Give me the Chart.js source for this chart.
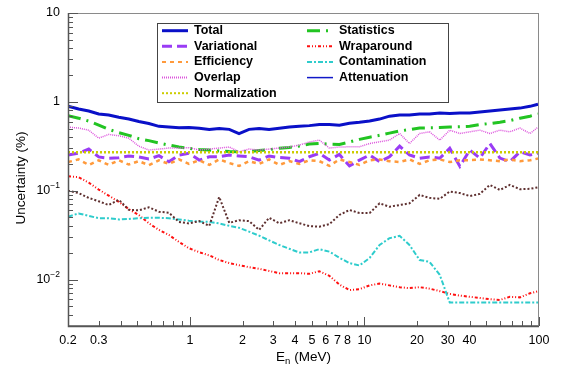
<!DOCTYPE html>
<html>
<head>
<meta charset="utf-8">
<script src="https://cdn.jsdelivr.net/npm/chart.js@4"></script>
<style>
  html, body { margin: 0; padding: 0; background: #fff; }
  #wrap { width: 564px; height: 369px; }
</style>
</head>
<body>
<div id="wrap"><canvas id="chart" width="564" height="369"></canvas></div>
<script>
// Energy bins (MeV)
var energy = [0.2, 0.23, 0.263, 0.3, 0.342, 0.391, 0.446, 0.509, 0.581, 0.664, 0.757, 0.865,
  0.987, 1.13, 1.29, 1.47, 1.68, 1.91, 2.18, 2.49, 2.84, 3.25, 3.71, 4.23,
  4.83, 5.51, 6.29, 7.18, 8.2, 9.36, 10.7, 12.2, 13.9, 15.9, 18.1, 20.7,
  23.6, 27.0, 30.8, 35.2, 40.1, 45.8, 52.3, 59.7, 68.1, 77.8, 88.8, 98.7];

// Uncertainties (%)
var total = [0.895, 0.83, 0.79, 0.73, 0.71, 0.67, 0.64, 0.60, 0.57, 0.53, 0.52, 0.51,
  0.515, 0.505, 0.49, 0.50, 0.49, 0.44, 0.49, 0.50, 0.49, 0.505, 0.52, 0.53,
  0.54, 0.555, 0.555, 0.547, 0.575, 0.59, 0.61, 0.64, 0.69, 0.71, 0.71, 0.73,
  0.73, 0.75, 0.74, 0.75, 0.75, 0.77, 0.79, 0.81, 0.83, 0.85, 0.89, 0.94];
var statistics = [0.70, 0.655, 0.607, 0.548, 0.49, 0.45, 0.42, 0.385, 0.366, 0.344, 0.326, 0.31,
  0.30, 0.29, 0.287, 0.28, 0.276, 0.274, 0.276, 0.283, 0.29, 0.30, 0.307, 0.318,
  0.335, 0.34, 0.335, 0.332, 0.353, 0.378, 0.40, 0.42, 0.445, 0.47, 0.487, 0.507,
  0.51, 0.513, 0.52, 0.524, 0.53, 0.555, 0.57, 0.59, 0.615, 0.655, 0.69, 0.73];
var variational = [0.252, 0.265, 0.294, 0.24, 0.232, 0.235, 0.246, 0.24, 0.227, 0.248, 0.212, 0.252,
  0.263, 0.221, 0.241, 0.241, 0.252, 0.246, 0.241, 0.221, 0.246, 0.236, 0.232, 0.212,
  0.241, 0.263, 0.221, 0.256, 0.19, 0.221, 0.252, 0.212, 0.241, 0.317, 0.252, 0.232,
  0.24, 0.232, 0.30, 0.188, 0.287, 0.232, 0.34, 0.233, 0.212, 0.274, 0.252, 0.263];
var wraparound = [0.145, 0.142, 0.123, 0.103, 0.088, 0.075, 0.062, 0.0533, 0.043, 0.0362, 0.0318, 0.0265,
  0.0225, 0.0203, 0.0187, 0.0166, 0.0153, 0.0145, 0.0138, 0.0132, 0.0125, 0.0118, 0.0118, 0.0118,
  0.0116, 0.0124, 0.011, 0.0088, 0.0076, 0.0078, 0.0086, 0.009, 0.0086, 0.0082, 0.008, 0.0082,
  0.0079, 0.0074, 0.0069, 0.0066, 0.0064, 0.0062, 0.006, 0.0059, 0.0064, 0.0063, 0.0070, 0.0074];
var efficiency = [0.21, 0.225, 0.195, 0.22, 0.195, 0.22, 0.197, 0.215, 0.194, 0.22, 0.2, 0.225,
  0.2, 0.22, 0.195, 0.225, 0.205, 0.19, 0.215, 0.2, 0.225, 0.195, 0.215, 0.2,
  0.22, 0.215, 0.19, 0.225, 0.21, 0.195, 0.22, 0.225, 0.215, 0.21, 0.225, 0.2,
  0.22, 0.225, 0.21, 0.22, 0.22, 0.225, 0.22, 0.215, 0.225, 0.215, 0.22, 0.23];
var contamination = [0.051, 0.0555, 0.052, 0.049, 0.049, 0.0475, 0.048, 0.049, 0.0495, 0.0495, 0.049, 0.0475,
  0.046, 0.045, 0.0445, 0.0428, 0.0402, 0.0382, 0.0346, 0.0312, 0.0276, 0.0245, 0.0222, 0.0202,
  0.0202, 0.022, 0.0206, 0.0176, 0.0153, 0.0144, 0.0175, 0.0245, 0.0292, 0.031, 0.0245, 0.0166,
  0.0158, 0.0113, 0.0055, 0.0055, 0.0055, 0.0055, 0.0055, 0.0055, 0.0055, 0.0055, 0.0055, 0.0055];
var overlap = [0.52, 0.507, 0.48, 0.39, 0.43, 0.415, 0.39, 0.317, 0.287, 0.294, 0.302, 0.302,
  0.305, 0.287, 0.294, 0.302, 0.31, 0.274, 0.294, 0.287, 0.294, 0.302, 0.31, 0.326,
  0.353, 0.371, 0.302, 0.31, 0.312, 0.312, 0.34, 0.355, 0.371, 0.44, 0.34, 0.44,
  0.46, 0.371, 0.48, 0.44, 0.46, 0.48, 0.44, 0.48, 0.46, 0.507, 0.44, 0.52];
var attenuation = [0.10, 0.094, 0.083, 0.076, 0.069, 0.079, 0.061, 0.060, 0.065, 0.058, 0.0565, 0.0445,
  0.0428, 0.0455, 0.0402, 0.085, 0.0434, 0.0465, 0.0455, 0.0362, 0.0496, 0.043, 0.0465, 0.043,
  0.04, 0.0394, 0.042, 0.0533, 0.0607, 0.056, 0.056, 0.072, 0.066, 0.069, 0.072, 0.0895,
  0.083, 0.081, 0.098, 0.094, 0.087, 0.092, 0.116, 0.102, 0.116, 0.104, 0.105, 0.109];
var normalization = [0.27, 0.27, 0.27, 0.27, 0.27, 0.27, 0.27, 0.27, 0.27, 0.27, 0.27, 0.27,
  0.27, 0.27, 0.27, 0.27, 0.27, 0.27, 0.27, 0.27, 0.27, 0.27, 0.27, 0.27,
  0.27, 0.27, 0.27, 0.27, 0.27, 0.27, 0.27, 0.27, 0.27, 0.27, 0.27, 0.27,
  0.27, 0.27, 0.27, 0.27, 0.27, 0.27, 0.27, 0.27, 0.27, 0.27, 0.27, 0.27];

// Axis ticks
var xMajorTicks = [1, 10, 100];
var xMinorTicks = [0.2, 0.3, 0.4, 0.5, 0.6, 0.7, 0.8, 0.9, 2, 3, 4, 5, 6, 7, 8, 9, 20, 30, 40, 50, 60, 70, 80, 90];
var xTickLabels = [0.2, 0.3, 1, 2, 3, 4, 5, 6, 7, 8, 10, 20, 30, 40, 100];
var yMajorTicks = [0.01, 0.1, 1, 10];
var yMinorTicks = [0.003, 0.004, 0.005, 0.006, 0.007, 0.008, 0.009,
  0.02, 0.03, 0.04, 0.05, 0.06, 0.07, 0.08, 0.09,
  0.2, 0.3, 0.4, 0.5, 0.6, 0.7, 0.8, 0.9,
  2, 3, 4, 5, 6, 7, 8, 9];
var yTickLabels = [['10', ''], ['1', ''], ['10', '\u22121'], ['10', '\u22122']];
var yTickValues = [10, 1, 0.1, 0.01];

function pts(vals) {
  return energy.map(function (e, i) { return { x: e, y: vals[i] }; });
}

function line(label, vals, color, width, dash) {
  return {
    label: label,
    data: pts(vals),
    borderColor: color,
    backgroundColor: color,
    borderWidth: width,
    borderDash: dash,
    pointRadius: 0,
    fill: false,
    tension: 0
  };
}

// legend entries: [label, color, width, dash]
var legendLeft = [
  ['Total', '#0a10c8', 3, []],
  ['Variational', '#9a3cf5', 3, [10, 5]],
  ['Efficiency', '#ff9a3c', 2, [4, 4]],
  ['Overlap', '#dd55dd', 2, [1, 1]],
  ['Normalization', '#cccc00', 2, [2, 2]]
];
var legendRight = [
  ['Statistics', '#22c422', 3, [13, 6, 2, 6]],
  ['Wraparound', '#ff1010', 2, [3, 2, 1, 2, 1, 2]],
  ['Contamination', '#2ecccc', 2, [5, 2, 2, 2]],
  ['Attenuation', '#1018c8', 1.5, []]
];

var FONT = '"Liberation Sans", Arial, Helvetica, sans-serif';

var rootAxes = {
  id: 'rootAxes',
  afterDatasetsDraw: function (chart) {
    var ctx = chart.ctx, a = chart.chartArea;
    var xs = chart.scales.x, ys = chart.scales.y;
    ctx.save();

    // frame
    ctx.strokeStyle = '#8a8a8a';
    ctx.lineWidth = 1;
    ctx.strokeRect(a.left + 0.5, a.top + 0.5, a.right - a.left - 1, a.bottom - a.top - 1);

    // axis lines
    ctx.strokeStyle = '#555';
    ctx.lineWidth = 1.5;
    ctx.beginPath();
    ctx.moveTo(a.left + 0.5, a.top);
    ctx.lineTo(a.left + 0.5, a.bottom + 0.5);
    ctx.lineTo(a.right, a.bottom + 0.5);
    ctx.stroke();

    // ticks
    ctx.lineWidth = 1;
    ctx.strokeStyle = '#555';
    ctx.beginPath();
    yMajorTicks.forEach(function (v) {
      var p = Math.round(ys.getPixelForValue(v)) + 0.5;
      ctx.moveTo(a.left, p); ctx.lineTo(a.left + 10, p);
    });
    yMinorTicks.forEach(function (v) {
      var p = Math.round(ys.getPixelForValue(v)) + 0.5;
      ctx.moveTo(a.left, p); ctx.lineTo(a.left + 5, p);
    });
    xMajorTicks.forEach(function (v) {
      var p = Math.round(xs.getPixelForValue(v)) + 0.5;
      ctx.moveTo(p, a.bottom); ctx.lineTo(p, a.bottom - 9);
    });
    xMinorTicks.forEach(function (v) {
      var p = Math.round(xs.getPixelForValue(v)) + 0.5;
      ctx.moveTo(p, a.bottom); ctx.lineTo(p, a.bottom - 5);
    });
    ctx.stroke();

    // x tick labels
    ctx.fillStyle = '#000';
    ctx.font = '12.5px ' + FONT;
    ctx.textAlign = 'center';
    ctx.textBaseline = 'middle';
    xTickLabels.forEach(function (v) {
      ctx.fillText(String(v), xs.getPixelForValue(v), a.bottom + 15);
    });

    // y tick labels with superscripts
    yTickLabels.forEach(function (lab, i) {
      var py = ys.getPixelForValue(yTickValues[i]);
      var right = a.left - 8;
      ctx.font = '8.5px ' + FONT;
      var wSup = lab[1] ? ctx.measureText(lab[1]).width : 0;
      ctx.font = '12.5px ' + FONT;
      var wBase = ctx.measureText(lab[0]).width;
      ctx.textAlign = 'left';
      ctx.textBaseline = 'middle';
      ctx.fillText(lab[0], right - wSup - wBase, py);
      if (lab[1]) {
        ctx.font = '8.5px ' + FONT;
        ctx.fillText(lab[1], right - wSup, py - 5);
      }
    });

    // x title: E_n (MeV)
    var cx = (a.left + a.right) / 2, ty = a.bottom + 31;
    ctx.font = '13.5px ' + FONT;
    var wE = ctx.measureText('E').width;
    var wRest = ctx.measureText(' (MeV)').width;
    ctx.font = '9.5px ' + FONT;
    var wN = ctx.measureText('n').width;
    var x0 = cx - (wE + wN + wRest) / 2;
    ctx.textAlign = 'left';
    ctx.font = '13.5px ' + FONT;
    ctx.fillText('E', x0, ty);
    ctx.font = '9.5px ' + FONT;
    ctx.fillText('n', x0 + wE, ty + 4);
    ctx.font = '13.5px ' + FONT;
    ctx.fillText(' (MeV)', x0 + wE + wN, ty);

    // y title
    ctx.save();
    ctx.translate(21, 178);
    ctx.rotate(-Math.PI / 2);
    ctx.textAlign = 'center';
    ctx.font = '13.5px ' + FONT;
    ctx.fillText('Uncertainty (%)', 0, 0);
    ctx.restore();

    // legend box
    var bx = 157, by = 23, bw = 291, bh = 79;
    ctx.fillStyle = '#fff';
    ctx.fillRect(bx, by, bw, bh);
    ctx.strokeStyle = '#444';
    ctx.lineWidth = 1;
    ctx.strokeRect(bx + 0.5, by + 0.5, bw, bh);
    var rowY = [30.7, 46.3, 61.9, 77.6, 93.2];
    function entries(list, sx, tx) {
      list.forEach(function (e, i) {
        var yy = rowY[i];
        ctx.strokeStyle = e[1];
        ctx.lineWidth = e[2];
        ctx.setLineDash(e[3]);
        ctx.beginPath();
        ctx.moveTo(sx, yy); ctx.lineTo(sx + 26, yy);
        ctx.stroke();
        ctx.setLineDash([]);
        ctx.fillStyle = '#000';
        ctx.font = 'bold 12.5px ' + FONT;
        ctx.textAlign = 'left';
        ctx.textBaseline = 'middle';
        ctx.fillText(e[0], tx, yy);
      });
    }
    entries(legendLeft, 162, 194);
    entries(legendRight, 307, 339);

    ctx.restore();
  }
};

var chart = new Chart(document.getElementById('chart').getContext('2d'), {
  type: 'line',
  data: {
    datasets: [
      line('Normalization', normalization, '#cccc00', 2.5, [2, 2]),
      line('Efficiency', efficiency, '#ff9a3c', 2.5, [4, 4]),
      line('Variational', variational, '#9a3cf5', 3, [10, 5]),
      line('Overlap', overlap, '#dd55dd', 1.5, [1, 1]),
      line('Statistics', statistics, '#22c422', 3, [13, 6, 2, 6]),
      line('Attenuation', attenuation, '#5e2f2f', 2, [2, 2]),
      line('Contamination', contamination, '#2ecccc', 2, [5, 2, 2, 2]),
      line('Wraparound', wraparound, '#ff1010', 2, [3, 2, 1, 2, 1, 2]),
      line('Total', total, '#0a10c8', 3, [])
    ]
  },
  options: {
    responsive: false,
    animation: false,
    devicePixelRatio: 1,
    layout: { padding: { left: 68, right: 25, top: 13, bottom: 43 } },
    plugins: {
      legend: { display: false },
      tooltip: { enabled: false }
    },
    scales: {
      x: { type: 'logarithmic', min: 0.2, max: 100, display: false },
      y: { type: 'logarithmic', min: 0.003, max: 10, display: false }
    }
  },
  plugins: [rootAxes]
});
</script>
</body>
</html>
